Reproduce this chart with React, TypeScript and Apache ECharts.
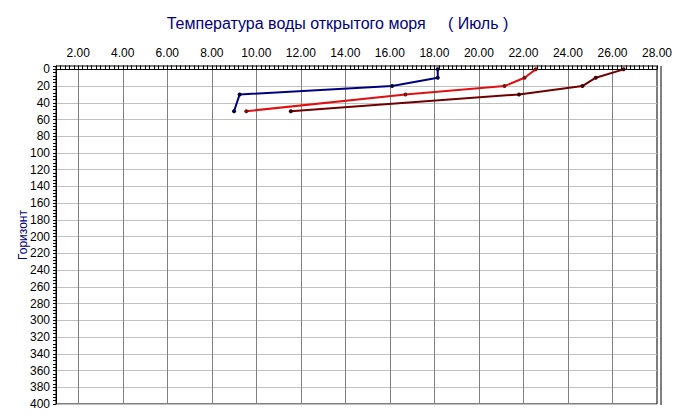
import { useEffect, useRef } from 'react';
import * as echarts from 'echarts';

const titleText = 'Температура воды открытого моря     ( Июль )';
const yAxisName = 'Горизонт';
const depths = [0, 10, 20, 30, 50];
const blueTemps = [18.15, 18.15, 16.1, 9.25, 9.0];
const redTemps = [22.55, 22.05, 21.15, 16.7, 9.55];
const darkRedTemps = [26.5, 25.25, 24.65, 21.8, 11.55];

export default function App() {
  const ref = useRef<HTMLDivElement>(null);
  useEffect(() => {
    const chart = echarts.init(ref.current!, null, { renderer: 'svg' });
    const font = "'Liberation Sans', Arial, sans-serif";
    const T = 'rgba(0,0,0,0)';
    const xSplit = [T, T, T, T, T, '#808080', T, T, T, T];
    const ySplit = [T, '#c0c0c0', T, T, T];
    const mk = (temps: number[], line: string, dot: string) => ({
      type: 'line',
      data: temps.map((t, i) => [t, depths[i]]),
      symbol: 'circle',
      symbolSize: 4,
      showSymbol: true,
      lineStyle: { color: line, width: 2 },
      itemStyle: { color: dot },
      emphasis: { disabled: true },
      z: 5,
    });
    chart.setOption({
      animation: false,
      backgroundColor: '#ffffff',
      textStyle: { fontFamily: font },
      title: {
        text: titleText,
        left: 'center',
        top: 10,
        textStyle: { fontFamily: font, fontSize: 16, fontWeight: 'normal', color: '#000080' },
      },
      grid: {
        left: 56,
        top: 66,
        right: 15,
        bottom: 15,
        show: true,
        borderColor: '#000',
        borderWidth: 1,
        backgroundColor: 'transparent',
      },
      graphic: [
        {
          type: 'line',
          shape: { x1: 661, y1: 66, x2: 661, y2: 405 },
          style: { stroke: '#000', lineWidth: 1 },
          z: 10,
        },
      ],
      xAxis: {
        type: 'value',
        position: 'top',
        min: 1,
        max: 28,
        interval: 0.2,
        axisLine: { show: true, lineStyle: { color: '#000', width: 1 } },
        axisTick: { show: true, inside: false, length: 4, lineStyle: { color: '#000' } },
        axisLabel: {
          show: true,
          margin: 7,
          fontSize: 12,
          color: '#000',
          fontFamily: font,
          formatter: (v: number) =>
            Math.abs(v / 2 - Math.round(v / 2)) < 1e-6 ? v.toFixed(2) : '',
        },
        splitLine: { show: true, lineStyle: { color: xSplit, width: 1 } },
      },
      yAxis: {
        type: 'value',
        inverse: true,
        min: -4,
        max: 400,
        interval: 4,
        name: yAxisName,
        nameLocation: 'middle',
        nameRotate: 90,
        nameGap: 27,
        nameMoveOverlap: false,
        nameTextStyle: { fontFamily: font, fontSize: 12, color: '#000080' },
        axisLine: { show: true, lineStyle: { color: '#000', width: 1 } },
        axisTick: { show: true, inside: false, length: 3, lineStyle: { color: '#000' } },
        axisLabel: {
          show: true,
          margin: 6,
          fontSize: 12,
          color: '#000',
          fontFamily: font,
          formatter: (v: number) => (v >= 0 && Math.abs(v % 20) < 1e-6 ? String(v) : ''),
        },
        splitLine: { show: true, lineStyle: { color: ySplit, width: 1 } },
      },
      series: [
        mk(blueTemps, '#000080', '#000040'),
        mk(redTemps, '#e01010', '#801010'),
        mk(darkRedTemps, '#700000', '#400000'),
      ],
    });
    return () => chart.dispose();
  }, []);
  return (
    <div
      ref={ref}
      style={{ position: 'fixed', left: 0, top: 0, width: 675, height: 419, background: '#fff' }}
    />
  );
}
